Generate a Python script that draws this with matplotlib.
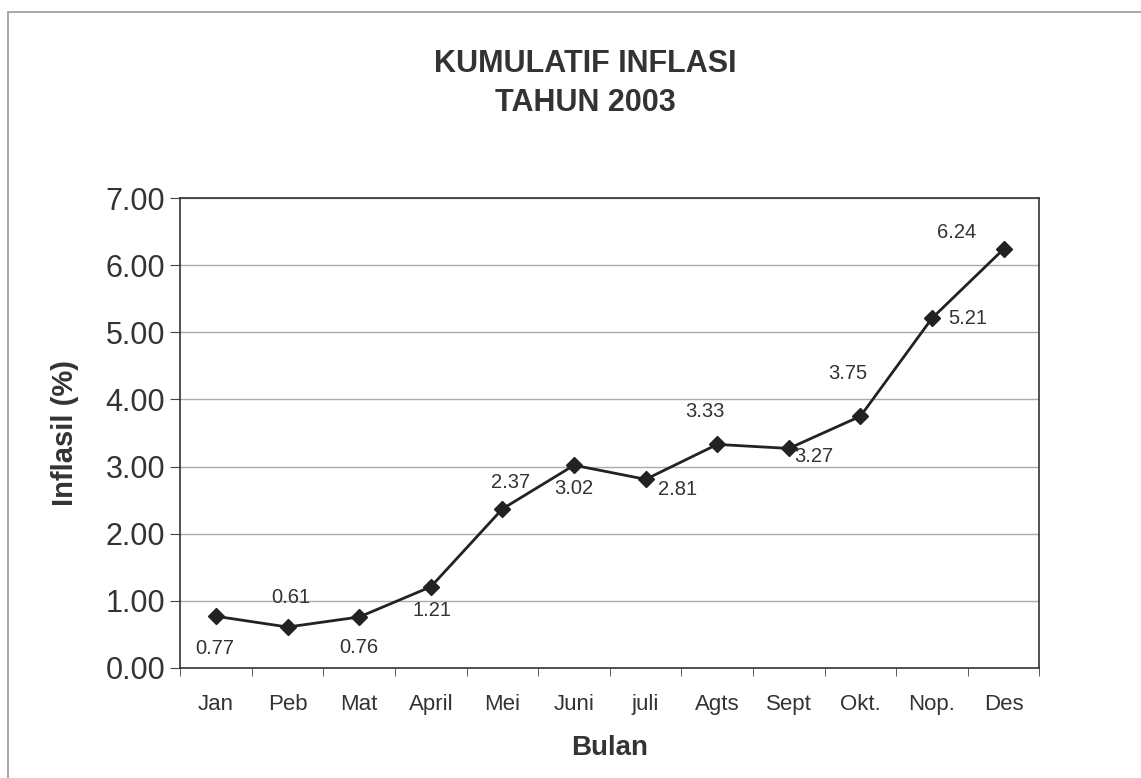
import numpy as np
import matplotlib.pyplot as plt
from matplotlib.patches import Rectangle

# Data
bulan = ['Jan', 'Peb', 'Mat', 'April', 'Mei', 'Juni', 'juli', 'Agts', 'Sept', 'Okt.', 'Nop.', 'Des']
inflasi = [0.77, 0.61, 0.76, 1.21, 2.37, 3.02, 2.81, 3.33, 3.27, 3.75, 5.21, 6.24]

# label offsets (points) for each data label, as placed in the original
lbl_dx = [-1, 2, 0, 1, 6, 0, 23, -9, 18, -9, 26, -34]
lbl_dy = [-23, 21, -22, -17, 19, -17, -7, 24, -6, 31, 0, 12]

plt.rcParams['font.family'] = ['Liberation Sans', 'DejaVu Sans']

fig = plt.figure(figsize=(11.41, 7.78), dpi=100)
ax = fig.add_axes([0.158, 0.1414, 0.753, 0.6041])

x = np.arange(len(bulan))
ax.plot(x, inflasi, color='#222222', lw=2, marker='D', ms=8, zorder=3)

for xi, yi, dx, dy in zip(x, inflasi, lbl_dx, lbl_dy):
    ax.annotate(f'{yi:.2f}', (xi, yi), xytext=(dx, dy), textcoords='offset points',
                ha='center', va='center', fontsize=14.5, color='#333333')

ax.set_xlim(-0.5, len(bulan) - 0.5)
ax.set_ylim(0, 7)
ax.set_yticks(np.arange(0, 8, 1))
ax.set_yticklabels([f'{v:.2f}' for v in range(8)], fontsize=22, color='#333333')
ax.yaxis.grid(True, color='#aaaaaa', lw=1)
ax.set_axisbelow(True)

ax.set_xticks(x)
ax.set_xticklabels(bulan, fontsize=16, color='#333333')
ax.set_xticks(np.arange(-0.5, len(bulan), 1), minor=True)
ax.tick_params(axis='x', which='major', length=0, pad=19)
ax.tick_params(axis='x', which='minor', length=6, direction='out', color='#444444')
ax.tick_params(axis='y', length=7, direction='out', color='#444444', pad=4)

for s in ax.spines.values():
    s.set_color('#333333')
    s.set_linewidth(1.2)

ax.set_xlabel('Bulan', fontsize=20, fontweight='bold', color='#333333', labelpad=14)
ax.set_ylabel('Inflasil (%)', fontsize=21, fontweight='bold', color='#333333', labelpad=19)

fig.text(0.513, 0.918, 'KUMULATIF INFLASI', ha='center', va='center',
         fontsize=22, fontweight='bold', color='#333333')
fig.text(0.513, 0.868, 'TAHUN 2003', ha='center', va='center',
         fontsize=22, fontweight='bold', color='#333333')

# scanned page frame
fig.patches.append(Rectangle((0.007, -0.01), 1.0, 0.995, transform=fig.transFigure,
                             fill=False, ec='#999999', lw=1.2))

fig.savefig('out.png', dpi=100)
